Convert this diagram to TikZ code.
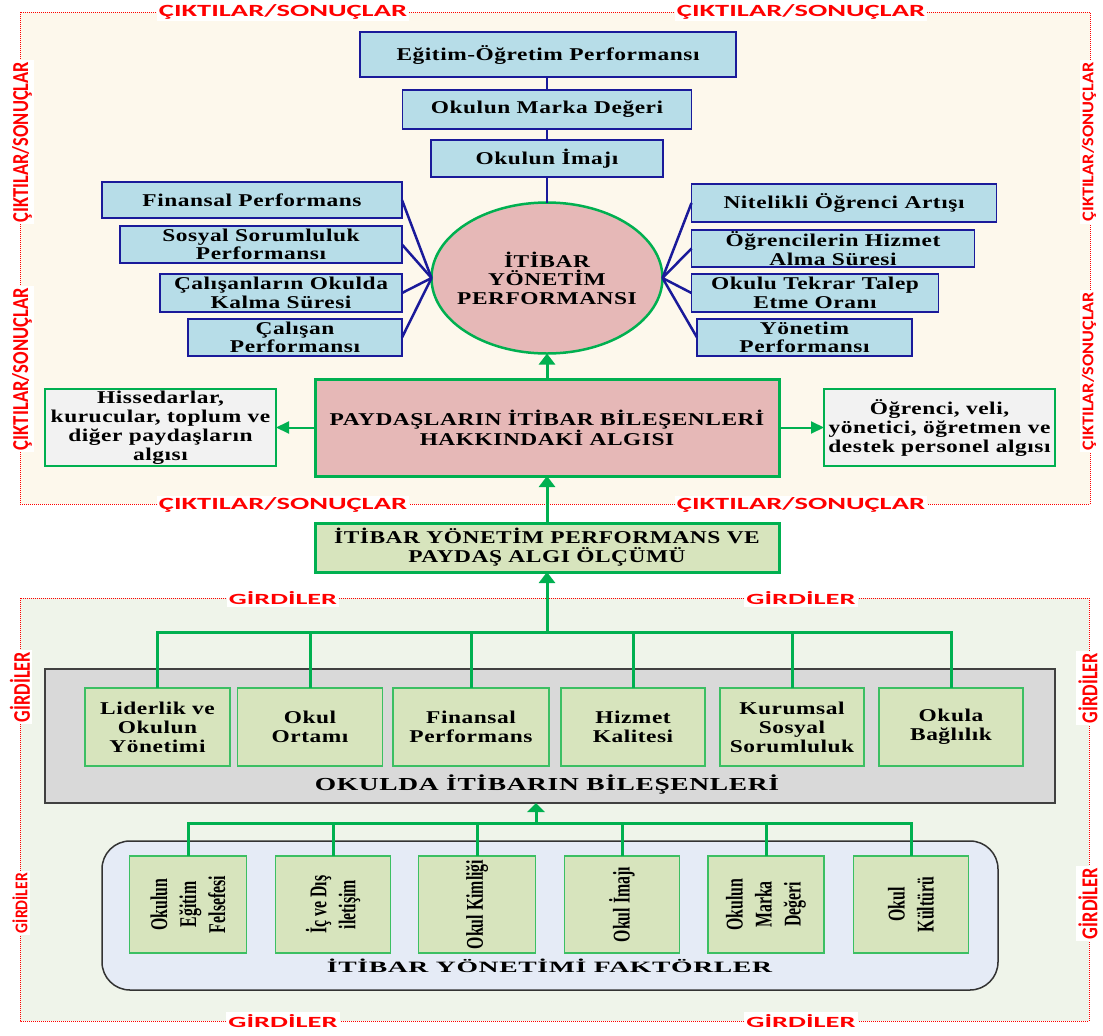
\documentclass[tikz,border=0pt]{standalone}
\usepackage{fontspec}
\usepackage{graphicx}
\usetikzlibrary{shapes.geometric,arrows.meta}
\setmainfont{Liberation Serif}
\newfontfamily\bxf[FakeStretch=1.3,LetterSpace=3]{Liberation Serif}
\newfontfamily\cnf[FakeStretch=0.66]{Liberation Serif}
\newfontfamily\labf{Carlito}
\newcommand\redlab[3]{\resizebox{#1pt}{#2pt}{\labf\bfseries #3}}
\newcommand\ttlbox[3]{\resizebox{#1pt}{#2pt}{\bxf\bfseries #3}}
\definecolor{cream}{HTML}{FDF8EC}
\definecolor{lgbg}{HTML}{EFF4EA}
\definecolor{lblue}{HTML}{B7DDE8}
\definecolor{navy}{HTML}{1A1A9A}
\definecolor{pinkf}{HTML}{E6B8B7}
\definecolor{grn}{HTML}{00B050}
\definecolor{lgrn}{HTML}{3CBF63}
\definecolor{lgray}{HTML}{F2F2F2}
\definecolor{olive}{HTML}{D7E4BD}
\definecolor{midgray}{HTML}{D9D9D9}
\definecolor{rbfill}{HTML}{E5EBF6}
\definecolor{redl}{HTML}{FF0000}
\begin{document}
\begin{tikzpicture}[x=1pt,y=-1pt,
  box/.style={inner sep=0pt, outer sep=0pt, align=center, font=\bxf\bfseries\fontsize{18}{19}\selectfont},
  sz/.style 2 args={minimum width=#1pt, minimum height=#2pt},
  bluebox/.style={box, draw=navy, line width=1.5pt, fill=lblue},
  pinkbox/.style={box, draw=grn, line width=3pt, fill=pinkf},
  graybox/.style={box, draw=grn, line width=1.5pt, fill=lgray},
  olivebox/.style={box, draw=grn, line width=3pt, fill=olive},
  compbox/.style={box, draw=lgrn, line width=1.5pt, fill=olive},
  rottext/.style={inner sep=0pt, rotate=90, align=center, font=\cnf\bfseries\fontsize{24}{29}\selectfont},
  conn/.style={draw=navy, line width=2.5pt},
  garrow/.style={draw=grn, line width=3pt, -{Triangle[length=11pt,width=16pt]}},
  sarrow/.style={draw=grn, line width=2pt, -{Triangle[length=13pt,width=12pt]}},
  tline/.style={draw=grn, line width=3pt},
  dotbox/.style={draw=redl, line width=1pt, dash pattern=on 1pt off 1pt},
  lab/.style={fill=white, inner sep=2pt, text=redl},
  ttl/.style={inner sep=0pt, anchor=base}
]
\useasboundingbox (0,0) rectangle (1103,1036);

% regions
\draw[dotbox, fill=cream] (20,12) rectangle (1090,504);
\draw[dotbox, fill=lgbg] (20,598) rectangle (1089,1021);

% ---------- outputs ----------
\node[bluebox, sz={376}{45}] (eg) at (548,54.5) {Eğitim-Öğretim Performansı};
\node[bluebox, sz={289}{39}] (mk) at (547,109.5) {Okulun Marka Değeri};
\node[bluebox, sz={232}{37}] (im) at (547,158.5) {Okulun İmajı};

\node[draw=grn, line width=2.5pt, fill=pinkf, ellipse, sz={231}{151}, inner sep=0pt, outer sep=0pt] (el) at (547,278) {};
\node[box, font=\bxf\bfseries\fontsize{18}{18.5}\selectfont] (elt) at (el) {İTİBAR\\YÖNETİM\\PERFORMANSI};

\node[bluebox, sz={300}{36}] (fin) at (252,200) {Finansal Performans};
\node[bluebox, sz={282}{37}, font=\bxf\bfseries\fontsize{18}{18.5}\selectfont] (sos) at (261,244.5) {Sosyal Sorumluluk\\Performansı};
\node[bluebox, sz={242}{38}, font=\bxf\bfseries\fontsize{18}{18.5}\selectfont] (cal) at (281,293) {Çalışanların Okulda\\Kalma Süresi};
\node[bluebox, sz={214}{37}, font=\bxf\bfseries\fontsize{18}{18.5}\selectfont] (cp) at (295,337.5) {Çalışan\\Performansı};

\node[bluebox, sz={305}{38}] (nit) at (844,203) {Nitelikli Öğrenci Artışı};
\node[bluebox, sz={283}{37}, font=\bxf\bfseries\fontsize{18}{18.5}\selectfont] (ogr) at (833,248.5) {Öğrencilerin Hizmet\\Alma Süresi};
\node[bluebox, sz={247}{38}, font=\bxf\bfseries\fontsize{18}{18.5}\selectfont] (okt) at (815,293) {Okulu Tekrar Talep\\Etme Oranı};
\node[bluebox, sz={215}{37}, font=\bxf\bfseries\fontsize{18}{18.5}\selectfont] (yon) at (804.5,337.5) {Yönetim\\Performansı};

\draw[conn] (eg.south -| mk.north) -- (mk.north);
\draw[conn] (mk.south) -- (im.north);
\draw[conn] (im.south) -- (el.north);
\foreach \b in {fin,sos,cal,cp} \draw[conn] (\b.east) -- (el.west);
\foreach \b in {nit,ogr,okt,yon} \draw[conn] (el.east) -- (\b.west);

\node[pinkbox, sz={464}{97}] (pay) at (547,427.5) {PAYDAŞLARIN İTİBAR BİLEŞENLERİ\\HAKKINDAKİ ALGISI};
\node[graybox, sz={231}{77}] (his) at (160.5,427.5) {Hissedarlar,\\kurucular, toplum ve\\diğer paydaşların\\algısı};
\node[graybox, sz={231}{77}] (ogv) at (939.5,427.5) {Öğrenci, veli,\\yönetici, öğretmen ve\\destek personel algısı};

\draw[garrow] (pay.north) -- (el.south);
\draw[sarrow] (pay.west) -- (his.east);
\draw[sarrow] (pay.east) -- (ogv.west);

% ---------- measurement ----------
\node[olivebox, sz={464}{49}] (olc) at (547,547.5) {İTİBAR YÖNETİM PERFORMANS VE\\PAYDAŞ ALGI ÖLÇÜMÜ};
\draw[garrow] (olc.north) -- (pay.south);

% ---------- components ----------
\node[box, draw=black!75, line width=1.5pt, fill=midgray, sz={1010}{134}] (gray) at (550,736) {};
\node[ttl] (gtitle) at (547,790.7) {\ttlbox{464}{15.7}{OKULDA İTİBARIN BİLEŞENLERİ}};
\node[compbox, sz={145}{78}] (b1) at (157.5,727) {Liderlik ve\\Okulun\\Yönetimi};
\node[compbox, sz={145}{78}] (b2) at (310,727) {Okul\\Ortamı};
\node[compbox, sz={156}{78}] (b3) at (471,727) {Finansal\\Performans};
\node[compbox, sz={144}{78}] (b4) at (633,727) {Hizmet\\Kalitesi};
\node[compbox, sz={144}{78}] (b5) at (792,727) {Kurumsal\\Sosyal\\Sorumluluk};
\node[compbox, sz={144}{78}] (b6) at (951,727) {Okula\\Bağlılık};

\coordinate (t1) at (547,632);
\draw[tline] (b1.north) |- (t1) -| (b6.north);
\foreach \b in {b2,b3,b4,b5} \draw[tline] (\b.north) -- (\b.north |- t1);
\draw[garrow] (t1) -- (olc.south);

% ---------- factors ----------
\node[draw=black!80, line width=1.5pt, fill=rbfill, rounded corners=28pt, sz={896}{149}, inner sep=0pt] (fac) at (550,915.5) {};
\node[ttl] (ftitle) at (549.5,972.7) {\ttlbox{445}{13.5}{İTİBAR YÖNETİMİ FAKTÖRLER}};
\node[compbox, sz={117}{97}] (f1) at (188,904.5) {};
\node[compbox, sz={115}{97}] (f2) at (333,904.5) {};
\node[compbox, sz={117}{97}] (f3) at (477,904.5) {};
\node[compbox, sz={115}{97}] (f4) at (622,904.5) {};
\node[compbox, sz={116}{97}] (f5) at (766,904.5) {};
\node[compbox, sz={115}{97}] (f6) at (911,904.5) {};
\node[rottext] (f1t) at (f1) {Okulun\\Eğitim\\Felsefesi};
\node[rottext] (f2t) at (f2) {İç ve Dış\\iletişim};
\node[rottext] (f3t) at (f3) {Okul Kimliği};
\node[rottext] (f4t) at (f4) {Okul İmajı};
\node[rottext] (f5t) at (f5) {Okulun\\Marka\\Değeri};
\node[rottext] (f6t) at (f6) {Okul\\Kültürü};

\coordinate (t2) at (536,823);
\draw[tline] (f1.north) |- (t2) -| (f6.north);
\foreach \b in {f2,f3,f4,f5} \draw[tline] (\b.north) -- (\b.north |- t2);
\draw[draw=grn, line width=3pt, -{Triangle[length=9pt,width=17pt]}] (t2) -- (gray.south -| t2);

% ---------- red labels ----------
\node[lab] (c1) at (283,12) {\redlab{248}{12}{ÇIKTILAR/SONUÇLAR}};
\node[lab] (c2) at (801,12) {\redlab{248}{12}{ÇIKTILAR/SONUÇLAR}};
\node[lab] (c3) at (283,505) {\redlab{248}{12}{ÇIKTILAR/SONUÇLAR}};
\node[lab] (c4) at (801,505) {\redlab{248}{12}{ÇIKTILAR/SONUÇLAR}};
\node[lab, rotate=90] (c5) at (22,142) {\redlab{160}{16}{ÇIKTILAR/SONUÇLAR}};
\node[lab, rotate=90] (c6) at (22,369) {\redlab{162}{16}{ÇIKTILAR/SONUÇLAR}};
\node[lab, rotate=90] (c7) at (1089,142) {\redlab{159}{11.5}{ÇIKTILAR/SONUÇLAR}};
\node[lab, rotate=90] (c8) at (1089,371) {\redlab{158}{11.5}{ÇIKTILAR/SONUÇLAR}};

\node[lab] (g1) at (283,598) {\redlab{108}{13}{GİRDİLER}};
\node[lab] (g2) at (801,598) {\redlab{109}{13}{GİRDİLER}};
\node[lab] (g3) at (283,1021) {\redlab{109}{13}{GİRDİLER}};
\node[lab] (g4) at (801,1021) {\redlab{109}{13}{GİRDİLER}};
\node[lab, rotate=90] (g5) at (20,687) {\redlab{70}{20}{GİRDİLER}};
\node[lab, rotate=90] (g6) at (20,903) {\redlab{60}{15}{GİRDİLER}};
\node[lab, rotate=90] (g7) at (1088,688) {\redlab{70}{19}{GİRDİLER}};
\node[lab, rotate=90] (g8) at (1088,903.5) {\redlab{71}{19}{GİRDİLER}};
\end{tikzpicture}
\end{document}
